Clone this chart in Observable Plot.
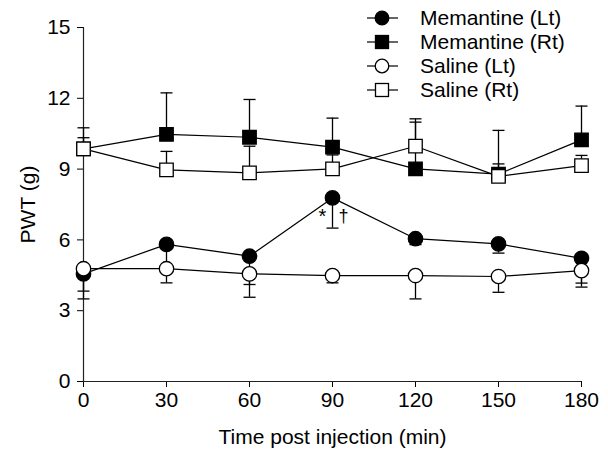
<!DOCTYPE html>
<html><head><meta charset="utf-8">
<script src="https://cdn.jsdelivr.net/npm/d3@7"></script>
<script src="https://cdn.jsdelivr.net/npm/@observablehq/plot@0.6"></script>
<style>
html,body{margin:0;padding:0;background:#fff;}
#chart{position:relative;width:608px;height:453px;}
#legend{position:absolute;left:0;top:0;pointer-events:none;}
</style></head><body><div id="chart"></div>
<script>
// ---- data ----
const times = [0, 30, 60, 90, 120, 150, 180];
const xTicks = [0, 30, 60, 90, 120, 150, 180];
const yTicks = [0, 3, 6, 9, 12, 15];
const seriesNames = ["Memantine (Lt)", "Memantine (Rt)", "Saline (Lt)", "Saline (Rt)"];
const memantineLt = [4.56, 5.81, 5.31, 7.78, 6.05, 5.83, 5.22];
const memantineLtErrEnd = [3.50, 4.90, 4.11, 6.50, 5.80, 5.44, 4.00];
const memantineRt = [9.86, 10.47, 10.35, 9.93, 9.01, 8.79, 10.24];
const memantineRtErrEnd = [10.75, 12.23, 11.95, 11.16, 10.99, 9.22, 11.67];
const salineLt = [4.78, 4.78, 4.56, 4.49, 4.49, 4.45, 4.70];
const salineLtErrEnd = [3.83, 4.18, 3.57, 4.18, 3.50, 3.78, 4.17];
const salineRt = [9.86, 8.97, 8.84, 9.01, 9.97, 8.69, 9.15];
const salineRtErrEnd = [10.33, 9.75, 9.97, 9.60, 11.13, 10.64, 9.58];
const annotationLabels = ["*", "†"];
const annotationTime = 90;
const annotationSeries = "Memantine (Lt)";

// ---- styling ----
const seriesStyle = [
  {symbol: "circle", fill: "black"},
  {symbol: "square", fill: "black"},
  {symbol: "circle", fill: "white"},
  {symbol: "square", fill: "white"}
];
const values = [memantineLt, memantineRt, salineLt, salineRt];
const errEnds = [memantineLtErrEnd, memantineRtErrEnd, salineLtErrEnd, salineRtErrEnd];

const rows = seriesNames.flatMap((s, i) => times.map((t, j) => ({series: s, t, v: values[i][j], e: errEnds[i][j]})));

const capSymbol = {draw(ctx, size) { ctx.moveTo(-6, 0); ctx.lineTo(6, 0); }};

const annPoint = rows.find(d => d.series === annotationSeries && d.t === annotationTime);
const annRows = annotationLabels.map(l => ({t: annPoint.t, v: annPoint.v, label: l}));

const font = "'Liberation Sans', Arial, Helvetica, sans-serif";

const dotMarks = seriesNames.map((s, i) => Plot.dot(rows.filter(d => d.series === s), {
  x: "t", y: "v", symbol: seriesStyle[i].symbol,
  r: seriesStyle[i].symbol === "square" ? 7.6 : 7.2,
  fill: seriesStyle[i].fill, stroke: "black", strokeWidth: 1.3
}));

const plot = Plot.plot({
  width: 608, height: 453,
  marginLeft: 83, marginRight: 27, marginTop: 27, marginBottom: 72,
  style: {fontFamily: font, fontSize: "21px", background: "white", color: "black"},
  x: {domain: [0, 180], ticks: xTicks, label: "Time post injection (min)", labelAnchor: "center", labelArrow: "none", labelOffset: 62, tickSize: 6, tickPadding: 5},
  y: {domain: [0, 15], ticks: yTicks, label: "PWT (g)", labelAnchor: "center", labelArrow: "none", labelOffset: 63, tickSize: 6, tickPadding: 7},
  marks: [
    Plot.ruleY([0], {stroke: "#222", strokeWidth: 1.2}),
    Plot.ruleX([0], {y1: 0, y2: 15, stroke: "#222", strokeWidth: 1.2}),
    Plot.ruleX(rows, {x: "t", y1: "v", y2: "e", stroke: "black", strokeWidth: 1.3}),
    Plot.dot(rows, {x: "t", y: "e", symbol: capSymbol, r: 4, fill: "none", stroke: "black", strokeWidth: 1.3}),
    Plot.line(rows, {x: "t", y: "v", z: "series", stroke: "black", strokeWidth: 1.2}),
    ...dotMarks,
    Plot.text(annRows.slice(0, 1), {x: "t", y: "v", text: "label", dx: -10, dy: 19, fontSize: 20, fill: "black"}),
    Plot.text(annRows.slice(1, 2), {x: "t", y: "v", text: "label", dx: 11, dy: 18, fontSize: 18, fill: "black"})
  ]
});
const chart = document.getElementById("chart");
chart.appendChild(plot);

// ---- legend (overlay) ----
const leg = d3.select(chart).append("svg").attr("id", "legend")
  .attr("width", 608).attr("height", 110)
  .style("font-family", font).style("font-size", "21px");
seriesNames.forEach((s, i) => {
  const cy = 18 + i * 24;
  const g = leg.append("g");
  g.append("line").attr("x1", 367).attr("x2", 398).attr("y1", cy).attr("y2", cy).attr("stroke", "black").attr("stroke-width", 1.2);
  if (seriesStyle[i].symbol === "circle") {
    g.append("circle").attr("cx", 382).attr("cy", cy).attr("r", 6.8).attr("fill", seriesStyle[i].fill).attr("stroke", "black").attr("stroke-width", 1.3);
  } else {
    g.append("rect").attr("x", 382 - 6.5).attr("y", cy - 6.5).attr("width", 13).attr("height", 13).attr("fill", seriesStyle[i].fill).attr("stroke", "black").attr("stroke-width", 1.3);
  }
  g.append("text").attr("x", 420).attr("y", cy).attr("dy", "0.35em").attr("fill", "black").text(s);
});
</script>
</body></html>
